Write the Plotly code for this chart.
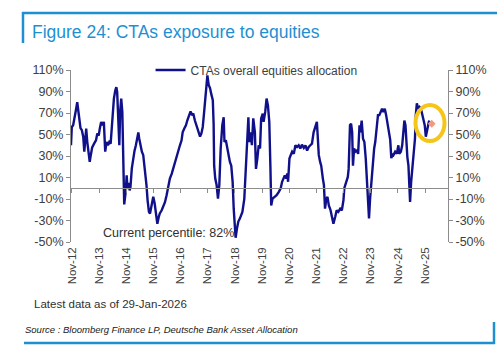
import plotly.graph_objects as go
from datetime import datetime

# ---- data (decimal years, % allocation) ----
t_years = [
    2012.80, 2012.83, 2012.88, 2012.93, 2012.98, 2013.03, 2013.06, 2013.10, 2013.15, 2013.20,
    2013.25, 2013.29, 2013.32, 2013.36, 2013.40, 2013.45, 2013.49, 2013.53, 2013.58, 2013.65,
    2013.72, 2013.77, 2013.82, 2013.86, 2013.91, 2013.96, 2014.01, 2014.06, 2014.11, 2014.16,
    2014.21, 2014.26, 2014.30, 2014.33, 2014.38, 2014.43, 2014.47, 2014.50, 2014.54, 2014.58,
    2014.61, 2014.65, 2014.69, 2014.72, 2014.76, 2014.82, 2014.85, 2014.88, 2014.92, 2014.96,
    2014.99, 2015.04, 2015.09, 2015.14, 2015.19, 2015.24, 2015.28, 2015.31, 2015.36, 2015.41,
    2015.46, 2015.51, 2015.55, 2015.58, 2015.62, 2015.67, 2015.71, 2015.77, 2015.83, 2015.88,
    2015.93, 2015.98, 2016.03, 2016.07, 2016.14, 2016.20, 2016.26, 2016.32, 2016.38, 2016.44,
    2016.51, 2016.56, 2016.63, 2016.69, 2016.75, 2016.81, 2016.87, 2016.91, 2016.97, 2017.03,
    2017.08, 2017.15, 2017.20, 2017.25, 2017.30, 2017.36, 2017.43, 2017.48, 2017.55, 2017.60,
    2017.65, 2017.69, 2017.74, 2017.78, 2017.82, 2017.87, 2017.92, 2017.96, 2018.02, 2018.05,
    2018.07, 2018.11, 2018.16, 2018.21, 2018.26, 2018.31, 2018.37, 2018.42, 2018.45, 2018.50,
    2018.55, 2018.60, 2018.65, 2018.70, 2018.75, 2018.79, 2018.83, 2018.86, 2018.91, 2018.96,
    2019.02, 2019.07, 2019.11, 2019.18, 2019.22, 2019.26, 2019.30, 2019.33, 2019.36, 2019.41,
    2019.46, 2019.51, 2019.57, 2019.61, 2019.66, 2019.71, 2019.76, 2019.80, 2019.86, 2019.89,
    2019.95, 2020.00, 2020.05, 2020.10, 2020.14, 2020.17, 2020.22, 2020.30, 2020.37, 2020.45,
    2020.52, 2020.57, 2020.62, 2020.67, 2020.72, 2020.76, 2020.79, 2020.84, 2020.89, 2020.94,
    2021.00, 2021.06, 2021.12, 2021.18, 2021.24, 2021.30, 2021.37, 2021.43, 2021.49, 2021.55,
    2021.61, 2021.67, 2021.73, 2021.79, 2021.85, 2021.88, 2021.92, 2021.97, 2022.01, 2022.07,
    2022.11, 2022.15, 2022.20, 2022.24, 2022.29, 2022.35, 2022.40, 2022.46, 2022.53, 2022.58,
    2022.64, 2022.71, 2022.77, 2022.83, 2022.86, 2022.92, 2022.99, 2023.02, 2023.07, 2023.11,
    2023.15, 2023.18, 2023.22, 2023.27, 2023.32, 2023.37, 2023.42, 2023.45, 2023.50, 2023.55,
    2023.60, 2023.65, 2023.70, 2023.74, 2023.77, 2023.81, 2023.86, 2023.91, 2023.96, 2024.00,
    2024.06, 2024.10, 2024.15, 2024.20, 2024.25, 2024.30, 2024.35, 2024.40, 2024.45, 2024.50,
    2024.55, 2024.59, 2024.64, 2024.67, 2024.73, 2024.79, 2024.85, 2024.88, 2024.94, 2024.99,
    2025.04, 2025.07, 2025.11, 2025.15, 2025.18, 2025.22, 2025.26, 2025.28, 2025.32, 2025.37,
    2025.40, 2025.46, 2025.49, 2025.53, 2025.58, 2025.63, 2025.68, 2025.72, 2025.77, 2025.82,
    2025.86, 2025.89, 2025.93, 2025.97, 2026.00,
]
allocation = [
    40, 57, 58.6, 68, 72.6, 80, 74, 63, 56, 54,
    48, 34, 43, 55.5, 43, 31, 24.5, 31, 38, 41.5,
    44.6, 51, 49, 55.5, 61.7, 58.6, 61.7, 34, 43, 40,
    43, 41.5, 58.6, 69.5, 83.4, 91, 94, 89.6, 68, 40,
    71, 83.4, 71, 21, -15, -2, 12, 0, 5, -2,
    1, 18.6, 28, 35, 40, 46.5, 52, 46.5, 40, 34,
    31, 18.6, 15, 3, -11, -22, -23.5, -16, -8, -14,
    -25, -33, -27, -23.5, -20.5, -17, -13, -6.5, 3, 9,
    13.6, 18.3, 24.5, 29, 35, 40, 44.6, 52, 55.5, 58.6,
    63, 68, 71.6, 68, 69.5, 63, 57, 52, 48, 51,
    57, 68, 85, 96, 105, 96, 93, 88, 82, 60,
    21, 9, 3, -9.6, 3, 37, 58.6, 66, 43, 44.6,
    37, 31, 24.5, 21, 6, -19, -37.5, -46, -37.5, -31,
    -28, -25, -22, -10, 10, 35, 55, 66, 43, 52,
    40, 65, 52, 18, 27.6, 40, 37, 65, 69.5, 61.7,
    71, 83.4, 77, 61.7, 21, -16, -9.6, -8, -6.5, -3.4,
    0, 6, 9, 12, 9, 13.6, 6, 27.6, 31, 34,
    32, 40, 38.4, 40, 37, 40.6, 37.5, 40, 35, 38.4,
    40, 41.5, 52, 57, 61.7, 49, 31, 24.5, 21, 9,
    3, -19, -9.6, -8, -16, -20, -27, -33, -26, -20.5,
    -22, -19, -20.5, -11, 0, 6, 10.5, 18, 58.6, 60,
    52, 21, 37, 34, 35, 32, 58.6, 52, 63, 46,
    43, 27.6, 6, -9.6, -28, -9.6, 9, 27.6, 37, 43,
    58.6, 68, 68, 71, 74, 71, 74, 68, 60, 55.5,
    45, 28, 32, 31, 34, 32, 40, 32, 34, 40,
    52, 63, 58.6, 37, 29, 21, -9.6, -12.7, 6, 21,
    34, 46, 68, 79, 74, 75.6, 74, 69.5, 63, 58.6,
    48, 52, 58.6, 61.7, 63,
]
latest_date = ["2026-01-29"]
latest_value = [60]

series_name = "CTAs overall equities allocation"
x_tick_dates = [f"{y}-11-01" for y in range(2012, 2026)]
x_tick_labels = [f"Nov-{str(y)[2:]}" for y in range(2012, 2026)]
y_tick_vals = [110, 90, 70, 50, 30, 10, -10, -30, -50]
y_tick_labels = ["110%", "90%", "70%", "50%", "30%", "10%", "-10%", "-30%", "-50%"]
x_range = ["2012-10-20", "2026-09-05"]
y_range = [-50, 110]


def dec2date(t):
    y = int(t)
    start, end = datetime(y, 1, 1), datetime(y + 1, 1, 1)
    return start + (end - start) * (t - y)


dates = [dec2date(t) for t in t_years]

NAVY = "#10108a"
GRAY = "#8c8c8c"
TXT = "#404040"
BLUE = "#1f8fd3"
FONT = "Liberation Sans, Arial, sans-serif"

fig = go.Figure()
fig.add_trace(go.Scatter(
    x=dates, y=allocation, mode="lines", name=series_name,
    line=dict(color=NAVY, width=2.4), xaxis="x", yaxis="y",
))
fig.add_trace(go.Scatter(
    x=latest_date, y=latest_value, mode="markers", showlegend=False,
    marker=dict(symbol="diamond", size=6, color="#f29a7a"),
))
# invisible helper on secondary axes (zero-line ticks + right axis)
fig.add_trace(go.Scatter(
    x=dates, y=allocation, mode="lines", showlegend=False, hoverinfo="skip",
    line=dict(color="rgba(0,0,0,0)", width=0), xaxis="x2", yaxis="y2",
))

W, H = 499, 351
ml, mr, mt, mb = 71, 51, 70, 109
zero_pos = (0 - y_range[0]) / (y_range[1] - y_range[0])

fig.update_layout(
    width=W, height=H,
    margin=dict(l=ml, r=mr, t=mt, b=mb, pad=0),
    paper_bgcolor="white", plot_bgcolor="white",
    font=dict(family=FONT, color=TXT, size=12),
    showlegend=True,
    legend=dict(
        x=0.211, xanchor="left", y=1.0, yanchor="middle",
        orientation="h", bgcolor="rgba(0,0,0,0)",
        font=dict(size=12, color=TXT), itemwidth=30,
    ),
    xaxis=dict(
        type="date", range=x_range, tickvals=x_tick_dates, ticktext=x_tick_labels,
        tickangle=-90, showline=False, ticks="", showgrid=False, zeroline=False,
        tickfont=dict(size=11.5, color=TXT), ticklabelstandoff=2,
    ),
    xaxis2=dict(
        type="date", range=x_range, overlaying="x", anchor="free", position=zero_pos,
        tickvals=x_tick_dates, showticklabels=False, ticks="outside", ticklen=4,
        tickcolor=GRAY, showline=True, linecolor=GRAY, linewidth=1, showgrid=False,
        zeroline=False,
    ),
    yaxis=dict(
        range=y_range, tickvals=y_tick_vals, ticktext=y_tick_labels,
        showline=True, linecolor=GRAY, linewidth=1, ticks="outside", ticklen=4,
        tickcolor=GRAY, showgrid=False, zeroline=False,
        tickfont=dict(size=12.5, color=TXT),
    ),
    yaxis2=dict(
        range=y_range, tickvals=y_tick_vals, ticktext=y_tick_labels,
        overlaying="y", side="right", anchor="x",
        showline=True, linecolor=GRAY, linewidth=1, ticks="outside", ticklen=4,
        tickcolor=GRAY, showgrid=False, zeroline=False,
        tickfont=dict(size=12.5, color=TXT),
    ),
)

pw, ph = W - ml - mr, H - mt - mb


def px_x(px):
    return (px - ml) / pw


def px_y(py):
    return (H - mb - py) / ph


shapes = [
    # header rule and left bar
    dict(type="line", xref="paper", yref="paper", x0=px_x(22), x1=px_x(497),
         y0=px_y(13), y1=px_y(13), line=dict(color=BLUE, width=2.5)),
    dict(type="line", xref="paper", yref="paper", x0=px_x(23), x1=px_x(23),
         y0=px_y(12), y1=px_y(43), line=dict(color=BLUE, width=2.5)),
    # footer rule and right bar
    dict(type="line", xref="paper", yref="paper", x0=px_x(24), x1=px_x(495),
         y0=px_y(343), y1=px_y(343), line=dict(color=BLUE, width=2.5)),
    dict(type="line", xref="paper", yref="paper", x0=px_x(494), x1=px_x(494),
         y0=px_y(322), y1=px_y(344), line=dict(color=BLUE, width=2.5)),
    # highlight circle around latest reading
    dict(type="circle", xref="paper", yref="paper", x0=px_x(415.5), x1=px_x(444.5),
         y0=px_y(141), y1=px_y(105), line=dict(color="#f5c518", width=4)),
]
fig.update_layout(shapes=shapes)

fig.add_annotation(text="Figure 24: CTAs exposure to equities", xref="paper", yref="paper",
                   x=px_x(30), y=px_y(32), xanchor="left", yanchor="middle", showarrow=False,
                   font=dict(size=17.5, color=BLUE, family=FONT))
fig.add_annotation(text="Current percentile: 82%", xref="paper", yref="paper",
                   x=px_x(168), y=px_y(233), xanchor="center", yanchor="middle", showarrow=False,
                   font=dict(size=12.5, color="#303030", family=FONT))
fig.add_annotation(text="Latest data as of 29-Jan-2026", xref="paper", yref="paper",
                   x=px_x(32), y=px_y(304), xanchor="left", yanchor="middle", showarrow=False,
                   font=dict(size=11.5, color="#303030", family=FONT))
fig.add_annotation(text="<i>Source : Bloomberg Finance LP, Deutsche Bank Asset Allocation</i>",
                   xref="paper", yref="paper",
                   x=px_x(23), y=px_y(329), xanchor="left", yanchor="middle", showarrow=False,
                   font=dict(size=9.5, color="#202020", family=FONT))

fig.write_html("out.html")
